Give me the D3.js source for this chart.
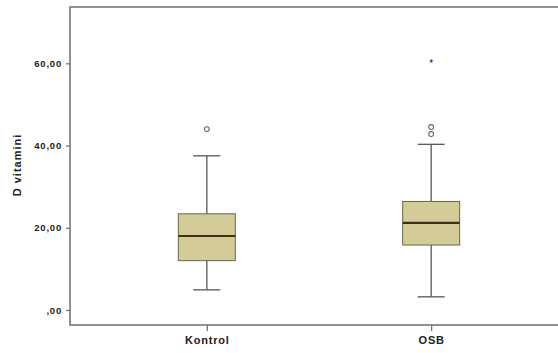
<!DOCTYPE html>
<html>
<head>
<meta charset="utf-8">
<script src="https://cdn.jsdelivr.net/npm/d3@7"></script>
<style>
  body { margin: 0; background: #fff; }
  text { font-family: Arial, "Liberation Sans", sans-serif; font-weight: bold; fill: #222; }
</style>
</head>
<body>
<svg id="chart" width="558" height="353"></svg>
<script>
// box plot values
var groups   = ["Kontrol", "OSB"];
var whiskLo  = [4.9, 3.2];
var q1       = [12.0, 15.8];
var median   = [18.0, 21.2];
var q3       = [23.4, 26.4];
var whiskHi  = [37.5, 40.3];
var outliers = [[44.0], [42.8, 44.5]];
var extremes = [[], [60.2]];
var yTicks   = [0, 20, 40, 60];

var svg = d3.select("#chart");

// plot frame edges (the right edge runs past the window)
var plotLeft = 70, plotTop = 7, plotBottom = 325, plotRight = 568;

var y = d3.scaleLinear().domain([-3.65, 73.7]).range([plotBottom, plotTop]);
var x = d3.scalePoint().domain(groups).range([plotLeft, plotRight]).padding(0.61);

var fmt = function(d) { return d === 0 ? ",00" : d.toFixed(2).replace(".", ","); };

// frame: left, top and bottom sides only
svg.append("path")
  .attr("d", "M" + plotRight + "," + plotTop + "H" + plotLeft + "V" + plotBottom + "H" + plotRight)
  .attr("fill", "none").attr("stroke", "#6e6e6e").attr("stroke-width", 1.5);

// y axis
var yAxis = svg.append("g")
  .attr("transform", "translate(" + plotLeft + ",0)")
  .call(d3.axisLeft(y).tickValues(yTicks).tickFormat(fmt).tickSize(4).tickPadding(4));
yAxis.select(".domain").remove();
yAxis.selectAll("line").attr("stroke", "#6e6e6e").attr("stroke-width", 1.2);
yAxis.selectAll("text").style("font-size", "9.5px").style("letter-spacing", "0.8px").attr("fill", "#222");

// x axis
var xAxis = svg.append("g")
  .attr("transform", "translate(0," + plotBottom + ")")
  .call(d3.axisBottom(x).tickSize(6).tickPadding(5));
xAxis.select(".domain").remove();
xAxis.selectAll("line").attr("stroke", "#6e6e6e").attr("stroke-width", 1.2);
xAxis.selectAll("text").style("font-size", "11px").style("letter-spacing", "0.8px").attr("fill", "#222");

// y title
svg.append("text")
  .attr("transform", "translate(21,165) rotate(-90)")
  .attr("text-anchor", "middle")
  .style("font-size", "11px")
  .style("letter-spacing", "1px")
  .text("D vitamini");

var boxW = 57, capW = 27;

var g = svg.selectAll(".box")
  .data(groups)
  .enter().append("g")
  .attr("class", "box")
  .attr("transform", function(d) { return "translate(" + x(d) + ",0)"; });

// whiskers
g.append("line")
  .attr("x1", 0).attr("x2", 0)
  .attr("y1", function(d, i) { return y(whiskHi[i]); })
  .attr("y2", function(d, i) { return y(q3[i]); })
  .attr("stroke", "#555").attr("stroke-width", 1.3);
g.append("line")
  .attr("x1", 0).attr("x2", 0)
  .attr("y1", function(d, i) { return y(q1[i]); })
  .attr("y2", function(d, i) { return y(whiskLo[i]); })
  .attr("stroke", "#555").attr("stroke-width", 1.3);

// caps
[whiskHi, whiskLo].forEach(function(arr) {
  g.append("line")
    .attr("x1", -capW / 2).attr("x2", capW / 2)
    .attr("y1", function(d, i) { return y(arr[i]); })
    .attr("y2", function(d, i) { return y(arr[i]); })
    .attr("stroke", "#555").attr("stroke-width", 1.3);
});

// box
g.append("rect")
  .attr("x", -boxW / 2)
  .attr("width", boxW)
  .attr("y", function(d, i) { return y(q3[i]); })
  .attr("height", function(d, i) { return y(q1[i]) - y(q3[i]); })
  .attr("fill", "#d4cc98").attr("stroke", "#6b6646").attr("stroke-width", 1);

// median
g.append("line")
  .attr("x1", -boxW / 2).attr("x2", boxW / 2)
  .attr("y1", function(d, i) { return y(median[i]); })
  .attr("y2", function(d, i) { return y(median[i]); })
  .attr("stroke", "#3b3214").attr("stroke-width", 2.2);

// outliers
g.each(function(d, i) {
  var sel = d3.select(this);
  sel.selectAll(".out").data(outliers[i]).enter().append("circle")
    .attr("cx", 0).attr("cy", function(v) { return y(v); })
    .attr("r", 2.4)
    .attr("fill", "none").attr("stroke", "#666").attr("stroke-width", 1.1);
  sel.selectAll(".ext").data(extremes[i]).enter().append("text")
    .attr("x", 0).attr("y", function(v) { return y(v) + 4.5; })
    .attr("text-anchor", "middle")
    .style("font-size", "10px").style("font-weight", "normal")
    .attr("fill", "#444")
    .text("*");
});
</script>
</body>
</html>
